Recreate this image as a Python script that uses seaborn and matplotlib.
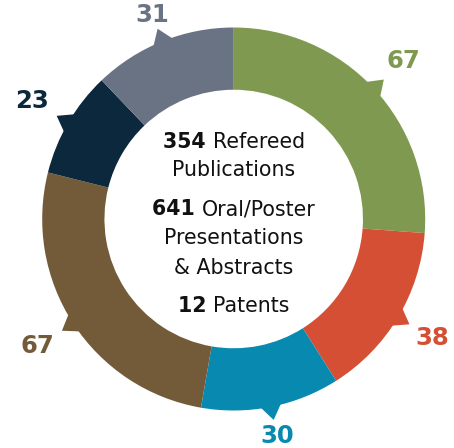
import numpy as np
import seaborn as sns
import matplotlib.pyplot as plt
from matplotlib.patches import Polygon

# segment values, clockwise from 12 o'clock
values = [67, 38, 30, 67, 23, 31]
colors = ['#7F9A50', '#D44F34', '#0889B0', '#735B3A', '#0B283C', '#6A7384']
label_dist = [1.21, 1.21, 1.155, 1.22, 1.22, 1.15]

# centre text: (bold part, regular part)
center_lines = [('354', 'Refereed'), ('', 'Publications'),
                ('641', 'Oral/Poster'), ('', 'Presentations'),
                ('', '& Abstracts'), ('12', 'Patents')]
line_y = [0.373, 0.225, 0.019, -0.133, -0.286, -0.487]

sns.set_theme(style='white')
plt.rcParams['font.family'] = ['DejaVu Sans']

fig = plt.figure(figsize=(4.54, 4.48), dpi=100)
ax = fig.add_axes([0, 0, 1, 1])

wedges, _ = ax.pie(values, colors=colors, startangle=90, counterclock=False,
                   radius=1.0, wedgeprops=dict(width=0.325, linewidth=0))

for w, c, v, d in zip(wedges, colors, values, label_dist):
    mid = np.deg2rad((w.theta1 + w.theta2) / 2)
    # little pointer tab on the outer edge
    da = np.deg2rad(3.8)
    pts = [(0.98 * np.cos(mid - da), 0.98 * np.sin(mid - da)),
           (1.07 * np.cos(mid), 1.07 * np.sin(mid)),
           (0.98 * np.cos(mid + da), 0.98 * np.sin(mid + da))]
    ax.add_patch(Polygon(pts, closed=True, color=c, lw=0))
    ax.text(d * np.cos(mid), d * np.sin(mid), str(v), color=c,
            fontsize=17.5, fontweight='bold', ha='center', va='center')

# centre text with mixed weights
fs = 14.8
pieces = []
for (b, r), y in zip(center_lines, line_y):
    tb = ax.text(0, y, b + (' ' if b else ''), fontsize=fs, fontweight='bold',
                 color='#111111', ha='left', va='baseline')
    tr = ax.text(0, y, r, fontsize=fs, color='#111111', ha='left', va='baseline')
    pieces.append((tb, tr, y, b))

R = 191.5
ax.set_xlim(-233.7 / R, (454 - 233.7) / R)
ax.set_ylim(-(448 - 219) / R, 219 / R)
ax.set_aspect('auto')
ax.axis('off')

fig.canvas.draw()
rend = fig.canvas.get_renderer()
for tb, tr, y, b in pieces:
    wb = tb.get_window_extent(rend).width if b else 0
    wr = tr.get_window_extent(rend).width
    total = (wb + wr) / R
    x0 = -total / 2
    tb.set_position((x0, y))
    tr.set_position((x0 + wb / R, y))

fig.savefig('out.png', dpi=100)
